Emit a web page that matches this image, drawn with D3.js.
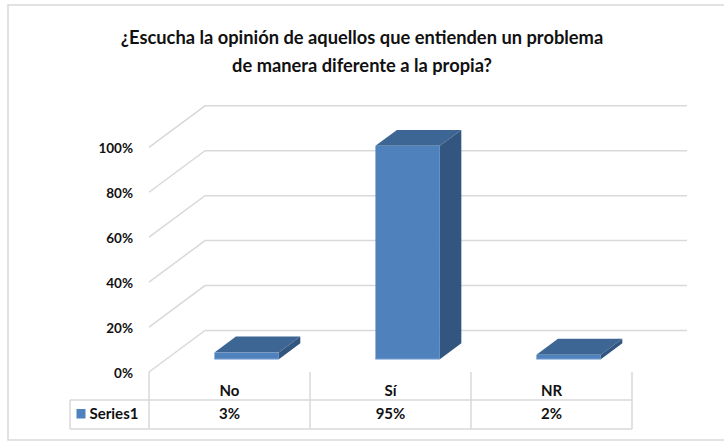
<!DOCTYPE html>
<html>
<head>
<meta charset="utf-8">
<script src="https://cdn.jsdelivr.net/npm/d3@7"></script>
<style>
  html, body { margin: 0; padding: 0; background: #fff; }
  svg { display: block; }
  text { font-family: Lato, "Open Sans", sans-serif; fill: #111; }
</style>
</head>
<body>
<svg id="chart" width="724" height="442"></svg>
<script>
// Survey answers (share of respondents)
const categories = ["No", "Sí", "NR"];
const values = [0.03, 0.95, 0.02];
const valueLabels = ["3%", "95%", "2%"];
const seriesName = "Series1";
const yTicks = [0, 0.2, 0.4, 0.6, 0.8, 1.0];
const titleLines = [
  "¿Escucha la opinión de aquellos que entienden un problema",
  "de manera diferente a la propia?"
];

const W = 724, H = 442;
const svg = d3.select("#chart");

// Front plane of the 3D plot box
const plotLeft = 149, plotRight = 632;
const floorY = 372, topY = 147.3;
// Oblique offset of the back wall
const depthDX = 56, depthDY = -41.5;
const wallRight = 687;
// Bars occupy this slice of the box depth
const barD0 = 0.306, barD1 = 0.69;

const x = d3.scaleBand().domain(categories).range([plotLeft, plotRight]).padding(0);
const y = d3.scaleLinear().domain([0, 1]).range([floorY, topY]);

const gridColor = "#d9d9d9";
const frontColor = "#4f81bd";
const topColor = "#3e6695";
const sideColor = "#32567f";

// Chart frame
svg.append("path")
  .attr("d", `M${W + 2},5 H8 V440 H${W + 2}`)
  .attr("fill", "none")
  .attr("stroke", gridColor)
  .attr("stroke-width", 1.5);

// Title
svg.append("g").selectAll("text")
  .data(titleLines)
  .join("text")
  .attr("x", 362)
  .attr("y", (d, i) => 44 + i * 28)
  .attr("text-anchor", "middle")
  .attr("font-size", 18.3)
  .attr("font-weight", 700)
  .text(d => d);

// Gridlines: side wall diagonal + back wall horizontal
const grid = svg.append("g");
grid.selectAll("path")
  .data(yTicks)
  .join("path")
  .attr("d", t => {
    const fy = y(t);
    return `M${plotLeft},${fy} L${plotLeft + depthDX},${fy + depthDY} L${wallRight},${fy + depthDY}`;
  })
  .attr("fill", "none")
  .attr("stroke", gridColor)
  .attr("stroke-width", 1.5);

// Y axis labels
svg.append("g").selectAll("text")
  .data(yTicks)
  .join("text")
  .attr("x", 133)
  .attr("y", t => y(t) + 1)
  .attr("dy", "0.35em")
  .attr("text-anchor", "end")
  .attr("font-size", 13.5)
  .attr("font-weight", 700)
  .text(d3.format(".0%"));

// 3D bars
const barW = x.bandwidth() * 0.4;
const bars = svg.append("g").selectAll("g")
  .data(categories.map((c, i) => ({ c, v: values[i] })))
  .join("g");

function pt(px, py, d) {
  return [px + d * depthDX, py + d * depthDY];
}

bars.each(function (d) {
  const g = d3.select(this);
  const xl = x(d.c) + x.bandwidth() / 2 - barW / 2;
  const xr = xl + barW;
  const y0 = y(0), y1 = y(d.v);
  const poly = pts => pts.map(p => p.join(",")).join(" ");
  // top face
  g.append("polygon")
    .attr("points", poly([pt(xl, y1, barD0), pt(xr, y1, barD0), pt(xr, y1, barD1), pt(xl, y1, barD1)]))
    .attr("fill", topColor);
  // side face
  g.append("polygon")
    .attr("points", poly([pt(xr, y1, barD0), pt(xr, y0, barD0), pt(xr, y0, barD1), pt(xr, y1, barD1)]))
    .attr("fill", sideColor);
  // front face
  const [fx, fy1] = pt(xl, y1, barD0);
  const [, fy0] = pt(xl, y0, barD0);
  g.append("rect")
    .attr("x", fx)
    .attr("y", fy1)
    .attr("width", barW)
    .attr("height", fy0 - fy1)
    .attr("fill", frontColor);
  g.append("line")
    .attr("x1", fx).attr("x2", fx + barW)
    .attr("y1", fy0 - 0.5).attr("y2", fy0 - 0.5)
    .attr("stroke", "#6b98cf")
    .attr("stroke-width", 1);
});

// Data table under the plot
const tableLeft = 70, rowSplit = 400, tableBottom = 429;
const table = svg.append("g")
  .attr("stroke", gridColor)
  .attr("stroke-width", 1.5)
  .attr("fill", "none");

const colEdges = [plotLeft, ...categories.map(c => x(c) + x.bandwidth())];
table.selectAll("line.v")
  .data(colEdges)
  .join("line")
  .attr("class", "v")
  .attr("x1", d => d).attr("x2", d => d)
  .attr("y1", floorY).attr("y2", tableBottom);
table.append("line")
  .attr("x1", tableLeft).attr("x2", tableLeft)
  .attr("y1", rowSplit).attr("y2", tableBottom);
table.selectAll("line.h")
  .data([rowSplit, tableBottom])
  .join("line")
  .attr("class", "h")
  .attr("x1", tableLeft).attr("x2", plotRight)
  .attr("y1", d => d).attr("y2", d => d);

// Category labels
svg.append("g").selectAll("text")
  .data(categories)
  .join("text")
  .attr("x", c => x(c) + x.bandwidth() / 2)
  .attr("y", 391)
  .attr("dy", "0.35em")
  .attr("text-anchor", "middle")
  .attr("font-size", 15)
  .attr("font-weight", 700)
  .text(c => c);

// Series row
svg.append("rect")
  .attr("x", 76.5).attr("y", 409)
  .attr("width", 9).attr("height", 9.5)
  .attr("fill", frontColor);
svg.append("text")
  .attr("x", 89.5)
  .attr("y", 414)
  .attr("dy", "0.35em")
  .attr("font-size", 15)
  .attr("font-weight", 700)
  .text(seriesName);
svg.append("g").selectAll("text")
  .data(categories)
  .join("text")
  .attr("x", c => x(c) + x.bandwidth() / 2)
  .attr("y", 414)
  .attr("dy", "0.35em")
  .attr("text-anchor", "middle")
  .attr("font-size", 15)
  .attr("font-weight", 700)
  .text((c, i) => valueLabels[i]);
</script>
</body>
</html>
